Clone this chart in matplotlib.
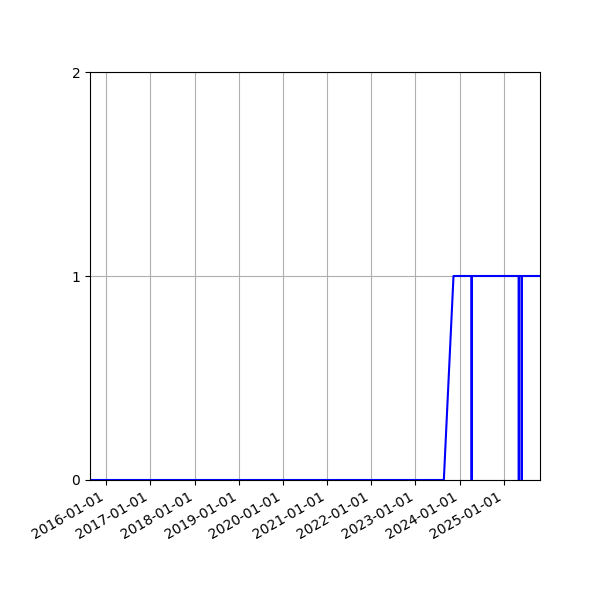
import matplotlib
matplotlib.use("Agg")
import matplotlib.pyplot as plt
import matplotlib.dates as mdates
import numpy as np

# breakpoints of the 0/1 series (date, value)
dates = ["2015-08-21", "2023-08-24", "2023-11-12", "2024-04-09", "2024-04-10",
         "2024-04-11", "2025-05-04", "2025-05-05", "2025-05-06", "2025-05-28",
         "2025-05-29", "2025-05-30", "2025-10-27"]
values = [0, 0, 1, 1, 0, 1, 1, 0, 1, 1, 0, 1, 1]

x = np.array(dates, dtype="datetime64[D]")

fig, ax = plt.subplots(figsize=(6, 6), dpi=100)
ax.plot(x, values, color="blue", linewidth=1.5)

ax.set_xlim(x[0], x[-1])
ax.set_ylim(0, 2)
ax.set_yticks([0, 1, 2])
ax.xaxis.set_major_locator(mdates.YearLocator())
ax.xaxis.set_major_formatter(mdates.DateFormatter("%Y-%m-%d"))
ax.grid(True)
fig.autofmt_xdate()
fig.subplots_adjust(left=0.15, right=0.9, bottom=0.2, top=0.88)

fig.savefig("out.png")
